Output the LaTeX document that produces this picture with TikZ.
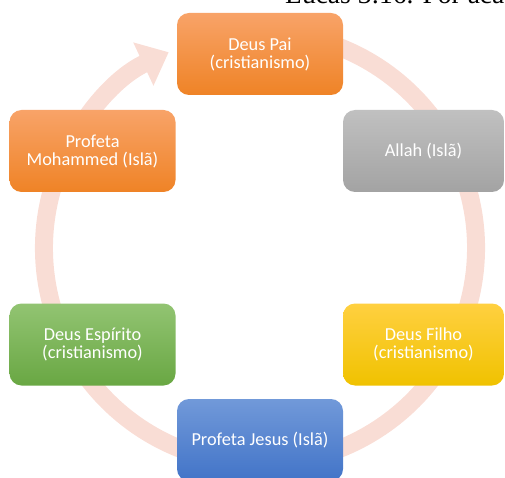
\documentclass[tikz,border=0pt]{standalone}
\usepackage{fontspec}
\setmainfont{Carlito}
\newfontfamily\serifa{Liberation Serif}
\usetikzlibrary{arrows.meta}

\definecolor{arcocor}{RGB}{249,221,213}
\definecolor{laranjaA}{RGB}{248,163,104}
\definecolor{laranjaB}{RGB}{239,131,38}
\definecolor{cinzaA}{RGB}{192,192,192}
\definecolor{cinzaB}{RGB}{163,163,163}
\definecolor{amareloA}{RGB}{255,208,64}
\definecolor{amareloB}{RGB}{240,194,0}
\definecolor{azulA}{RGB}{113,153,217}
\definecolor{azulB}{RGB}{66,116,200}
\definecolor{verdeA}{RGB}{146,196,114}
\definecolor{verdeB}{RGB}{105,167,67}

\begin{document}
\begin{tikzpicture}[x=1pt,y=1pt,
	caixa/.style={rounded corners=12pt,minimum width=166pt,minimum height=82pt,
		inner sep=0pt,align=center,text=white,font=\fontsize{18.3}{18}\selectfont},
	laranja/.style={top color=laranjaA,bottom color=laranjaB},
	cinza/.style={top color=cinzaA,bottom color=cinzaB},
	amarelo/.style={top color=amareloA,bottom color=amareloB},
	azul/.style={top color=azulA,bottom color=azulB},
	verde/.style={top color=verdeA,bottom color=verdeB},
	arco/.style={draw=arcocor,line width=18pt,-{Triangle[width=46pt,length=28pt]}}]

\useasboundingbox (0,0) rectangle (505,477);
\clip (0,0) rectangle (505,477);

\node[anchor=base west,inner sep=0pt,font=\serifa\fontsize{27.5}{27.5}\selectfont] (lucas) at (285,473) {Lucas 3:16. Por acaso};

\coordinate (centro) at (260,229);
\draw[arco] (centro) ++(75:216) arc[start angle=75,end angle=-245,radius=216];

\node[caixa,laranja] (pai) at (260,423) {Deus Pai\\(cristianismo)};
\node[caixa,cinza,minimum width=161pt] (allah) at (423.5,326) {Allah (Islã)};
\node[caixa,amarelo,minimum width=161pt] (filho) at (423.5,132.5) {Deus Filho\\(cristianismo)};
\node[caixa,azul] (jesus) at (260,37) {Profeta Jesus (Islã)};
\node[caixa,verde] (espirito) at (92.5,132.5) {Deus Espírito\\(cristianismo)};
\node[caixa,laranja] (mohammed) at (92.5,326) {Profeta\\Mohammed (Islã)};

\end{tikzpicture}
\end{document}
